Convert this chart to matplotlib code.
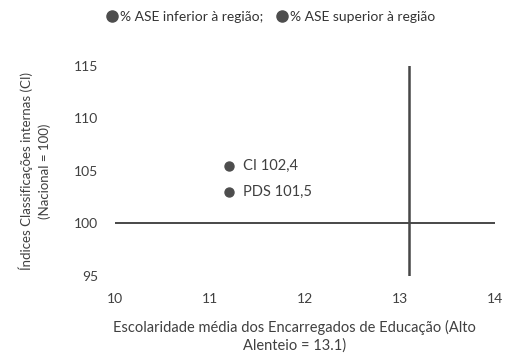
import matplotlib.pyplot as plt
from matplotlib.lines import Line2D

# pontos do gráfico
nomes = ["CI 102,4", "PDS 101,5"]
escolaridade = [11.2, 11.2]
indices = [105.5, 103.0]

media_regiao = 13.1   # Alto Alentejo
nacional = 100

x_ticks = [10, 11, 12, 13, 14]
y_ticks = [95, 100, 105, 110, 115]
legenda = ["% ASE inferior à região;", "% ASE superior à região"]

texto = "#404040"
plt.rcParams["font.family"] = ["Lato", "DejaVu Sans"]

fig = plt.figure(figsize=(5.05, 3.58), dpi=100)
ax = fig.add_axes([0.228, 0.229, 0.752, 0.587])

ax.axhline(nacional, color="#474747", lw=1.4, zorder=1)
ax.axvline(media_regiao, color="#474747", lw=1.8, zorder=1)

ax.scatter(escolaridade, indices, s=42, color="#4d4d4d", zorder=3)
for n, xv, yv in zip(nomes, escolaridade, indices):
    ax.annotate(n, (xv, yv), xytext=(10, 0), textcoords="offset points",
                va="center", ha="left", fontsize=10.5, color=texto)

ax.set_xlim(10, 14)
ax.set_ylim(95, 115)
ax.set_xticks(x_ticks)
ax.set_yticks(y_ticks)
ax.tick_params(length=0, labelsize=10, labelcolor=texto)
ax.tick_params(axis="x", pad=12)
ax.tick_params(axis="y", pad=12)
for s in ax.spines.values():
    s.set_visible(False)

ax.set_xlabel("Escolaridade média dos Encarregados de Educação (Alto\nAlenteio = 13.1)",
              fontsize=10.5, color=texto, linespacing=1.25)
ax.xaxis.set_label_coords(0.472, -0.21)
ax.set_ylabel("Índices Classificações internas (CI)\n(Nacional = 100)",
              fontsize=9.5, color=texto, linespacing=1.45)
ax.yaxis.set_label_coords(-0.17, 0.5)

# legenda no topo
marcas = [Line2D([], [], ls="", marker="o", ms=8, color="#4d4d4d") for _ in legenda]
fig.legend(marcas, legenda, loc="center", bbox_to_anchor=(0.535, 0.952), ncol=2,
           frameon=False, fontsize=10, handletextpad=0.1, columnspacing=0.8,
           handlelength=1.0, labelcolor="#333333")

fig.savefig("out.png", dpi=100)
